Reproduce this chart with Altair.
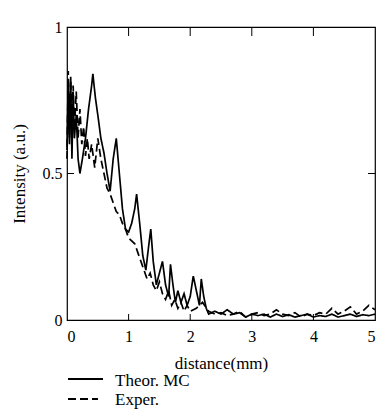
import altair as alt
import pandas as pd

theor_x = [0.00, 0.02, 0.04, 0.06, 0.08, 0.10, 0.12, 0.15, 0.18, 0.21, 0.25, 0.30, 0.35, 0.40, 0.42,
           0.46, 0.50, 0.55, 0.60, 0.65, 0.70, 0.75, 0.80, 0.85, 0.90, 0.95, 1.00, 1.05, 1.10, 1.13,
           1.18, 1.23, 1.28, 1.33, 1.36, 1.40, 1.45, 1.50, 1.55, 1.60, 1.65, 1.68, 1.72, 1.76, 1.80,
           1.85, 1.90, 1.95, 2.00, 2.05, 2.10, 2.15, 2.18, 2.22, 2.26, 2.30, 2.40, 2.50, 2.60, 2.70,
           2.80, 2.90, 3.00, 3.10, 3.20, 3.30, 3.40, 3.50, 3.60, 3.70, 3.80, 3.90, 4.00, 4.10, 4.20,
           4.30, 4.40, 4.50, 4.60, 4.70, 4.80, 4.90, 5.00]
theor_y = [0.58, 0.80, 0.60, 0.83, 0.55, 0.78, 0.62, 0.70, 0.55, 0.50, 0.55, 0.62, 0.72, 0.80, 0.84,
           0.76, 0.70, 0.62, 0.57, 0.50, 0.44, 0.55, 0.62, 0.50, 0.38, 0.31, 0.30, 0.33, 0.38, 0.43,
           0.33, 0.22, 0.17, 0.26, 0.31, 0.20, 0.12, 0.16, 0.20, 0.12, 0.08, 0.19, 0.12, 0.06, 0.10,
           0.06, 0.09, 0.05, 0.08, 0.15, 0.10, 0.05, 0.14, 0.08, 0.04, 0.02, 0.03, 0.02, 0.035, 0.02,
           0.025, 0.01, 0.02, 0.015, 0.02, 0.01, 0.02, 0.012, 0.018, 0.01, 0.015, 0.02, 0.01, 0.015, 0.012,
           0.02, 0.01, 0.015, 0.02, 0.012, 0.018, 0.015, 0.02]

exper_x = [0.00, 0.02, 0.04, 0.06, 0.08, 0.10, 0.12, 0.15, 0.18, 0.21, 0.24, 0.27, 0.30, 0.33, 0.36,
           0.40, 0.45, 0.50, 0.55, 0.60, 0.65, 0.70, 0.75, 0.80, 0.85, 0.90, 0.95, 1.00, 1.05, 1.10,
           1.15, 1.20, 1.25, 1.30, 1.35, 1.40, 1.45, 1.50, 1.55, 1.60, 1.65, 1.70, 1.75, 1.80, 1.85,
           1.90, 1.95, 2.00, 2.10, 2.20, 2.30, 2.40, 2.50, 2.60, 2.70, 2.80, 2.90, 3.00, 3.10, 3.20,
           3.30, 3.40, 3.50, 3.60, 3.70, 3.80, 3.90, 4.00, 4.10, 4.20, 4.30, 4.40, 4.50, 4.60, 4.70,
           4.80, 4.90, 5.00]
exper_y = [0.55, 0.85, 0.62, 0.82, 0.70, 0.80, 0.65, 0.78, 0.62, 0.72, 0.60, 0.66, 0.56, 0.62, 0.55,
           0.60, 0.52, 0.62, 0.55, 0.50, 0.45, 0.43, 0.40, 0.37, 0.36, 0.33, 0.31, 0.28, 0.27, 0.26,
           0.23, 0.20, 0.17, 0.14, 0.16, 0.12, 0.10, 0.13, 0.09, 0.07, 0.10, 0.05, 0.07, 0.04, 0.06,
           0.03, 0.05, 0.03, 0.04, 0.06, 0.03, 0.02, 0.025, 0.015, 0.02, 0.03, 0.01, 0.02, 0.025, 0.015,
           0.02, 0.035, 0.02, 0.015, 0.025, 0.01, 0.02, 0.015, 0.025, 0.02, 0.04, 0.02, 0.03, 0.045, 0.02,
           0.03, 0.05, 0.035]

series_names = ["Theor. MC", "Exper."]
x_ticks = [1, 2, 3, 4]
y_ticks = [0.5]

W, H = 308, 293
FONT = "Liberation Serif"
DASHES = [[1, 0], [8, 4]]
LEG_LINE_Y = [352, 372]
LEG_TEXT_Y = [354, 373]

xs = alt.Scale(domain=[0, 5], nice=False)
ys = alt.Scale(domain=[0, 1], nice=False)

X_AXIS = alt.Axis(values=[0, 1, 2, 3, 4, 5], format="d", domain=False, ticks=False,
                  grid=False, labelPadding=8, titlePadding=11)
Y_AXIS = alt.Axis(values=[0, 0.5, 1], format="~g", domain=False, ticks=False, grid=False,
                  labelPadding=5, titlePadding=14)

layers = []
for i, (sx, sy) in enumerate([(theor_x, theor_y), (exper_x, exper_y)]):
    d = pd.DataFrame({"x": sx, "y": sy})
    layers.append(
        alt.Chart(d).mark_line(color="black", strokeWidth=1.7, strokeDash=DASHES[i]).encode(
            x=alt.X("x:Q", scale=xs, title="distance(mm)", axis=X_AXIS),
            y=alt.Y("y:Q", scale=ys, title="Intensity (a.u.)", axis=Y_AXIS),
        )
    )

# manual legend below the plot
for i, name in enumerate(series_names):
    ld = pd.DataFrame({"s": [name]})
    layers.append(
        alt.Chart(ld).mark_rule(color="black", strokeWidth=1.8, strokeDash=DASHES[i]).encode(
            x=alt.value(1), x2=alt.value(36 if i == 0 else 31), y=alt.value(LEG_LINE_Y[i]))
    )
    layers.append(
        alt.Chart(ld).mark_text(align="left", baseline="middle", font=FONT, fontSize=17,
                                color="black").encode(
            text="s:N", x=alt.value(48), y=alt.value(LEG_TEXT_Y[i]))
    )

tdf_x = pd.DataFrame({"t": x_ticks})
tdf_y = pd.DataFrame({"t": y_ticks})
layers.append(alt.Chart(tdf_x).mark_rule(color="black", strokeWidth=1).encode(
    x=alt.X("t:Q", scale=xs), y=alt.value(0), y2=alt.value(9)))
layers.append(alt.Chart(tdf_x).mark_rule(color="black", strokeWidth=1).encode(
    x=alt.X("t:Q", scale=xs), y=alt.value(H), y2=alt.value(H - 6)))
layers.append(alt.Chart(tdf_y).mark_rule(color="black", strokeWidth=1).encode(
    y=alt.Y("t:Q", scale=ys), x=alt.value(0), x2=alt.value(7)))
layers.append(alt.Chart(tdf_y).mark_rule(color="black", strokeWidth=1).encode(
    y=alt.Y("t:Q", scale=ys), x=alt.value(W), x2=alt.value(W - 7)))

chart = alt.layer(*layers).properties(
    width=W, height=H,
    background="white",
    autosize=alt.AutoSizeParams(type="none"),
    padding={"left": 59, "top": 19, "right": 1, "bottom": 91},
).configure_view(stroke="black", strokeWidth=1.2).configure_axis(
    labelFont=FONT, labelFontSize=16, labelColor="black",
    titleFont=FONT, titleFontSize=17, titleColor="black", titleFontWeight="normal",
)

chart.save("out.html", embed_options={"renderer": "svg", "actions": False})
